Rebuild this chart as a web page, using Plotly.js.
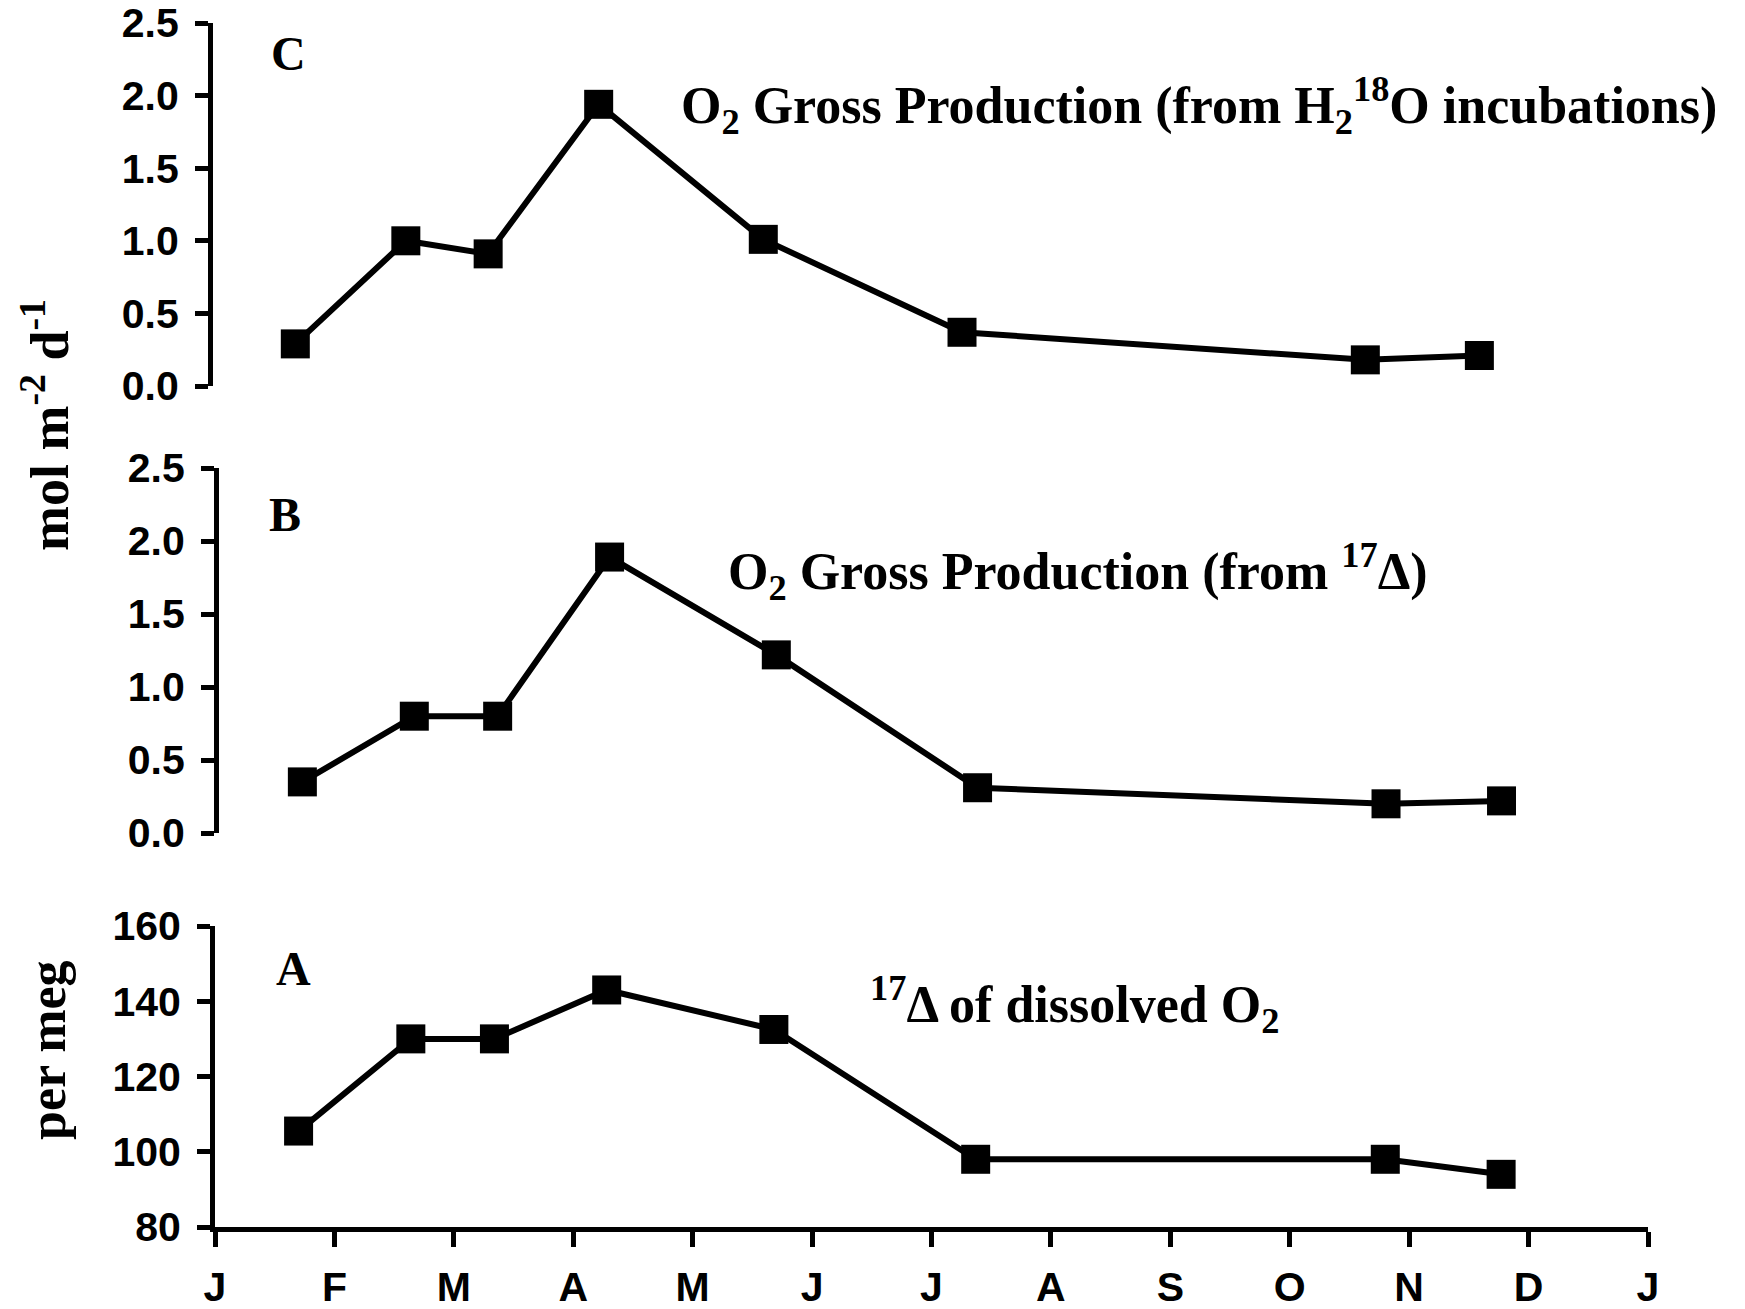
<!DOCTYPE html>
<html>
<head>
<meta charset="utf-8">
<script src="https://cdn.plot.ly/plotly-3.0.1.min.js"></script>
<style>
  html, body { margin: 0; padding: 0; background: #fff; }
  #chart { width: 1745px; height: 1309px; }
</style>
</head>
<body>
<div id="chart"></div>
<script>
// Month axis: one tick at the start of every month of the year
const monthLabels = ['J', 'F', 'M', 'A', 'M', 'J', 'J', 'A', 'S', 'O', 'N', 'D', 'J'];
const monthTicks = [0, 1, 2, 3, 4, 5, 6, 7, 8, 9, 10, 11, 12];

// Sampling dates, in months since 1 January
const sampleMonth = [0.70, 1.64, 2.34, 3.28, 4.68, 6.37, 9.80, 10.77];

// C: O2 gross production from H2-18O incubations (mol m-2 d-1)
const grossIncubation = [0.29, 1.00, 0.91, 1.94, 1.01, 0.37, 0.18, 0.21];
// B: O2 gross production from 17-Delta (mol m-2 d-1)
const grossDelta17 = [0.35, 0.80, 0.80, 1.89, 1.22, 0.31, 0.20, 0.22];
// A: 17-Delta of dissolved O2 (per meg)
const delta17 = [105.5, 130, 130, 143, 132.5, 98, 98, 94];

const W = 1745, H = 1309;
const px = x => x / W;            // horizontal pixel -> paper fraction
const py = y => 1 - y / H;        // vertical pixel -> paper fraction

const tickFont = { family: 'Liberation Sans, Arial, sans-serif', size: 41, color: '#000', weight: 'bold' };
const serif = { family: 'Liberation Serif, Times New Roman, serif', size: 52, color: '#000', weight: 'bold' };
const titleFont = { family: 'Liberation Serif, Times New Roman, serif', size: 54, color: '#000', weight: 'bold' };
const letterFont = { family: 'Liberation Serif, Times New Roman, serif', size: 48, color: '#000', weight: 'bold' };

function series(y, xa, ya) {
  return {
    x: sampleMonth, y: y, xaxis: xa, yaxis: ya,
    type: 'scatter', mode: 'lines+markers',
    line: { color: '#000', width: 6 },
    marker: { symbol: 'square', size: 29, color: '#000' },
    showlegend: false, hoverinfo: 'x+y'
  };
}

const yCommon = {
  showline: true, linecolor: '#000', linewidth: 5,
  ticks: 'outside', ticklen: 13, tickwidth: 5, tickcolor: '#000',
  tickfont: tickFont, ticklabelstandoff: 8,
  showgrid: false, zeroline: false, fixedrange: true
};

const hiddenX = { range: [0, 12], visible: false, fixedrange: true };

const layout = {
  width: W, height: H,
  margin: { l: 0, r: 0, t: 0, b: 0 },
  paper_bgcolor: '#fff', plot_bgcolor: '#fff',
  showlegend: false,
  // Panel A (bottom, carries the month axis)
  xaxis: {
    domain: [px(215), px(1648)], range: [0, 12], anchor: 'y',
    tickvals: monthTicks, ticktext: monthLabels,
    showline: true, linecolor: '#000', linewidth: 5,
    ticks: 'outside', ticklen: 15, tickwidth: 5, tickcolor: '#000',
    tickfont: tickFont, ticklabelstandoff: 5,
    showgrid: false, zeroline: false, fixedrange: true
  },
  yaxis: Object.assign({}, yCommon, {
    domain: [py(1227), py(926)], range: [80, 160], dtick: 20, tick0: 80, anchor: 'x'
  }),
  // Panel B
  xaxis2: Object.assign({}, hiddenX, { domain: [px(219), px(1648)], anchor: 'y2' }),
  yaxis2: Object.assign({}, yCommon, {
    domain: [py(833), py(468)], range: [0, 2.5], dtick: 0.5, tick0: 0, tickformat: '.1f', anchor: 'x2'
  }),
  // Panel C (top)
  xaxis3: Object.assign({}, hiddenX, { domain: [px(213), px(1624)], anchor: 'y3' }),
  yaxis3: Object.assign({}, yCommon, {
    domain: [py(386), py(23)], range: [0, 2.5], dtick: 0.5, tick0: 0, tickformat: '.1f', anchor: 'x3'
  }),
  annotations: [
    { text: 'C', x: px(269), y: py(54), xanchor: 'left', yanchor: 'middle', font: letterFont },
    { text: 'B', x: px(267), y: py(515), xanchor: 'left', yanchor: 'middle', font: letterFont },
    { text: 'A', x: px(274), y: py(968), xanchor: 'left', yanchor: 'middle', font: letterFont },
    { text: 'O<sub>2</sub> Gross Production (from H<sub>2</sub><sup>18</sup>O incubations)',
      x: px(679), y: py(106), xanchor: 'left', yanchor: 'middle', font: serif },
    { text: 'O<sub>2</sub> Gross Production (from <sup>17</sup>\u0394)',
      x: px(726), y: py(571), xanchor: 'left', yanchor: 'middle', font: serif },
    { text: '<sup>17</sup>\u0394 of dissolved O<sub>2</sub>',
      x: px(868), y: py(1004), xanchor: 'left', yanchor: 'middle', font: serif },
    { text: 'mol m<sup>-2</sup> d<sup>-1</sup>', x: px(45), y: py(425), textangle: -90,
      xanchor: 'center', yanchor: 'middle', font: titleFont },
    { text: 'per meg', x: px(47), y: py(1050), textangle: -90,
      xanchor: 'center', yanchor: 'middle', font: serif }
  ].map(a => Object.assign({ xref: 'paper', yref: 'paper', showarrow: false }, a))
};

Plotly.newPlot('chart', [
  series(delta17, 'x', 'y'),
  series(grossDelta17, 'x2', 'y2'),
  series(grossIncubation, 'x3', 'y3')
], layout, { displayModeBar: false, staticPlot: true });
</script>
</body>
</html>
